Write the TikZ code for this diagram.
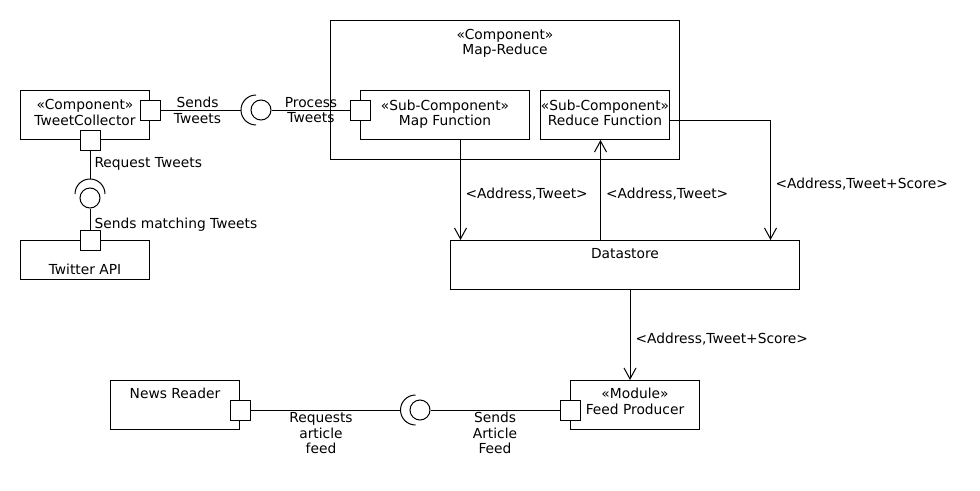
\documentclass[tikz,border=0pt]{standalone}
\usepackage{fontspec}
\setmainfont{DejaVu Sans}
\usetikzlibrary{arrows.meta}
\begin{document}
\begin{tikzpicture}[x=1pt,y=1pt, line width=1pt,
  font=\fontsize{13.8}{15.5}\selectfont,
  box/.style={draw, rectangle, inner sep=0, anchor=north west},
  port/.style={draw, fill=white, rectangle, minimum size=20pt, inner sep=0},
  ball/.style={draw, circle, minimum size=20pt, inner sep=0},
  txt/.style={inner sep=0, align=center},
  arr/.style={-{Straight Barb[length=11pt,width=12pt]}}]
\useasboundingbox (0,0) rectangle (980,-490);

% boxes
\node[box, minimum width=349pt, minimum height=139pt] (mr) at (330,-20) {};
\node[box, minimum width=169pt, minimum height=49pt] (map) at (360,-90) {};
\node[box, minimum width=129pt, minimum height=49pt] (rf) at (540,-90) {};
\node[box, minimum width=129pt, minimum height=49pt] (tc) at (20,-90) {};
\node[box, minimum width=129pt, minimum height=39pt] (api) at (20,-240) {};
\node[box, minimum width=349pt, minimum height=49pt] (ds) at (450,-240) {};
\node[box, minimum width=129pt, minimum height=49pt] (nr) at (110,-380) {};
\node[box, minimum width=129pt, minimum height=49pt] (fp) at (570,-380) {};

% box texts
\node[txt, anchor=north] (mrT) at ([yshift=-8.3pt]mr.north) {«Component»\\Map-Reduce};
\node[txt, anchor=north] (mapT) at ([yshift=-9.3pt]map.north) {«Sub-Component»\\Map Function};
\node[txt, anchor=north] (rfT) at ([yshift=-9.3pt]rf.north) {«Sub-Component»\\Reduce Function};
\node[txt, anchor=north] (tcT) at ([yshift=-9pt]tc.north) {«Component»\\TweetCollector};
\node[txt, anchor=north] (apiT0) at ([yshift=-23.5pt]api.north) {Twitter API};
\node[txt, anchor=north] (dsT) at ([yshift=-8pt]ds.north) {Datastore};
\node[txt, anchor=north] (nrT) at ([yshift=-8pt]nr.north) {News Reader};
\node[txt, anchor=north] (fpT) at ([yshift=-8pt]fp.north) {«Module»\\Feed Producer};

% ports
\node[port] (tcR) at ([yshift=-20pt]tc.north east) {};
\node[port] (tcB) at ([xshift=70pt]tc.south west) {};
\node[port] (apiT) at ([xshift=70pt]api.north west) {};
\node[port] (mapL) at ([yshift=-20pt]map.north west) {};
\node[port] (nrR) at ([yshift=-30pt]nr.north east) {};
\node[port] (fpL) at ([yshift=-30pt]fp.north west) {};

% interfaces: balls and sockets
\node[ball] (b1) at (261,-110) {};
\coordinate (c1) at (256,-110);
\coordinate (s1) at (241,-110);
\draw ([shift={(90:15pt)}]c1) arc[start angle=90, end angle=270, radius=15pt];

\node[ball] (b2) at (90,-198) {};
\coordinate (c2) at (90,-194);
\coordinate (s2) at (90,-179);
\draw ([shift={(0:15pt)}]c2) arc[start angle=0, end angle=180, radius=15pt];

\node[ball] (b3) at (420,-410) {};
\coordinate (c3) at (415.5,-410);
\coordinate (s3) at (400.5,-410);
\draw ([shift={(90:15pt)}]c3) arc[start angle=90, end angle=270, radius=15pt];

% connectors
\draw (tcR.east) -- (s1);
\draw (b1.east) -- (mapL.west);
\draw (tcB.south) -- (s2);
\draw (b2.south) -- (apiT.north);
\draw (nrR.east) -- (s3);
\draw (b3.east) -- (fpL.west);

\coordinate (xa) at (460.5,0);
\coordinate (xb) at (600.5,0);
\coordinate (xc) at (770.5,-120);
\coordinate (xd) at (630,0);
\draw[arr] (map.south -| xa) -- (ds.north -| xa);
\draw[arr] (ds.north -| xb) -- (rf.south -| xb);
\draw[arr] (rf.east |- xc) -| (ds.north -| xc);
\draw[arr] (ds.south -| xd) -- (fp.north -| xd);

% connector labels
\node[txt, anchor=north] (l1) at (197.5,-96.7) {Sends\\Tweets};
\node[txt, anchor=north] (l2) at (311,-96.7) {Process\\Tweets};
\node[txt, anchor=base west] (l3) at (94,-167.7) {Request Tweets};
\node[txt, anchor=base west] (l4) at (94,-228) {Sends matching Tweets};
\node[txt, anchor=base west] (l5) at (465,-198) {<Address,Tweet>};
\node[txt, anchor=base west] (l6) at (605.5,-198) {<Address,Tweet>};
\node[txt, anchor=base west] (l7) at (775,-188) {<Address,Tweet+Score>};
\node[txt, anchor=base west] (l8) at (635,-343.3) {<Address,Tweet+Score>};
\node[txt, anchor=north] (l9) at (321,-412) {Requests\\article\\feed};
\node[txt, anchor=north] (l10) at (495,-412) {Sends\\Article\\Feed};
\end{tikzpicture}
\end{document}
